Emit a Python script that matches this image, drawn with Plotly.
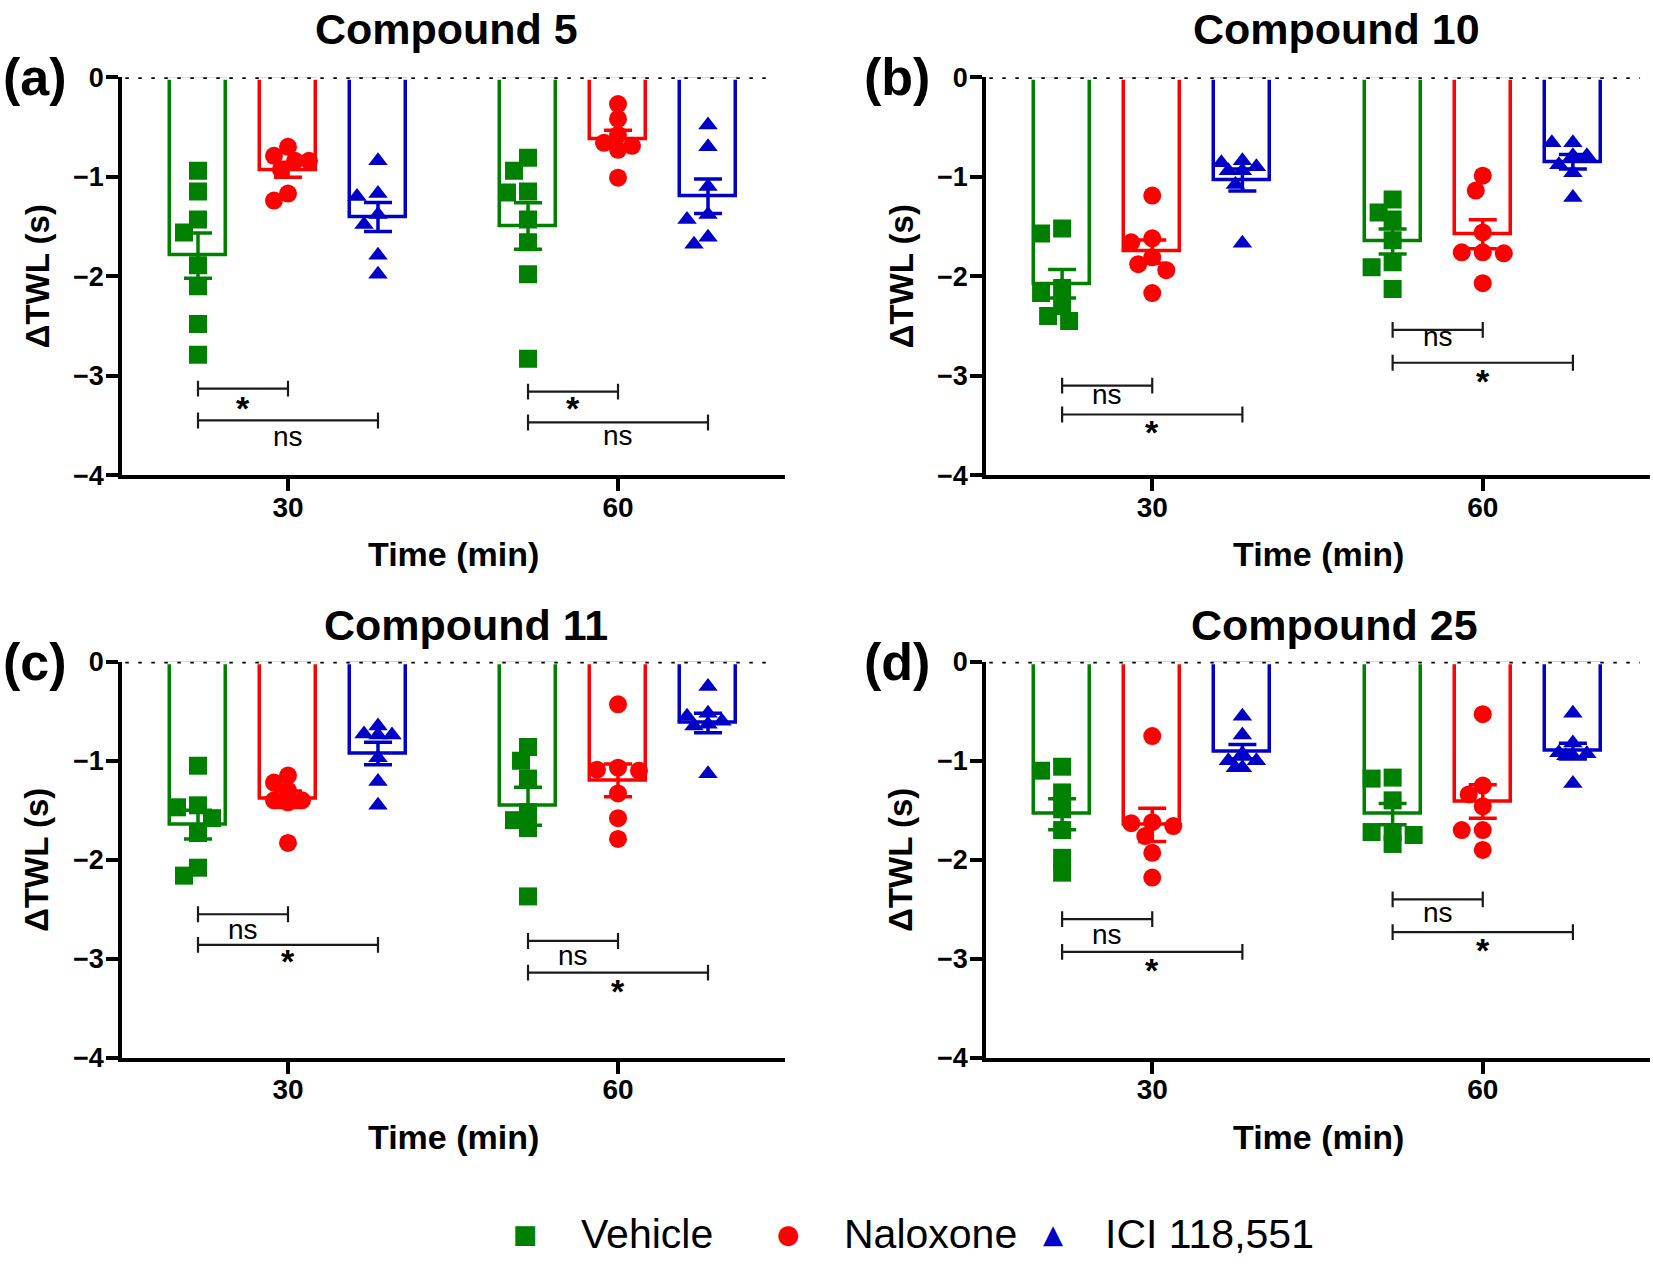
import plotly.graph_objects as go

W, H = 1653, 1264

TIME_LABELS = ["30", "60"]
GROUP_NAMES = ["Vehicle", "Naloxone", "ICI 118,551"]
PANEL_TAGS = ["(a)", "(b)", "(c)", "(d)"]
PANEL_TITLES = ["Compound 5", "Compound 10", "Compound 11", "Compound 25"]
Y_TICKS = [0, -1, -2, -3, -4]

# ---- individual animal values, ΔTWL (s) ----
C5_VEH_30 = [-0.94, -1.15, -1.43, -1.56, -1.89, -2.10, -2.48, -2.79]
C5_NAL_30 = [-0.70, -0.79, -0.84, -0.84, -0.93, -1.17, -1.24]
C5_ICI_30 = [-0.84, -1.17, -1.20, -1.38, -1.48, -1.79, -1.98]
C5_VEH_60 = [-0.81, -0.94, -1.15, -1.16, -1.43, -1.66, -1.98, -2.83]
C5_NAL_60 = [-0.27, -0.42, -0.58, -0.66, -0.69, -0.73, -1.01]
C5_ICI_60 = [-0.48, -0.70, -1.10, -1.38, -1.43, -1.61, -1.68]

C10_VEH_30 = [-1.52, -1.57, -2.12, -2.17, -2.30, -2.40, -2.45]
C10_NAL_30 = [-1.19, -1.62, -1.66, -1.81, -1.88, -1.94, -2.17]
C10_ICI_30 = [-0.84, -0.86, -0.90, -0.94, -0.94, -1.08, -1.67]
C10_VEH_60 = [-1.23, -1.36, -1.43, -1.64, -1.86, -1.91, -2.13]
C10_NAL_60 = [-0.99, -1.14, -1.56, -1.76, -1.76, -1.77, -2.07]
C10_ICI_60 = [-0.66, -0.66, -0.79, -0.79, -0.88, -0.96, -1.21]

C11_VEH_30 = [-1.05, -1.45, -1.47, -1.58, -1.73, -2.08, -2.16]
C11_NAL_30 = [-1.15, -1.22, -1.30, -1.40, -1.40, -1.42, -1.83]
C11_ICI_30 = [-0.65, -0.73, -0.74, -0.74, -0.97, -1.21, -1.45]
C11_VEH_60 = [-0.86, -1.00, -1.18, -1.52, -1.60, -1.68, -2.37]
C11_NAL_60 = [-0.43, -1.07, -1.09, -1.10, -1.33, -1.58, -1.79]
C11_ICI_60 = [-0.25, -0.52, -0.55, -0.60, -0.63, -0.65, -1.13]

C25_VEH_30 = [-1.06, -1.10, -1.32, -1.49, -1.70, -1.98, -2.13]
C25_NAL_30 = [-0.75, -1.62, -1.63, -1.66, -1.76, -1.93, -2.18]
C25_ICI_30 = [-0.55, -0.74, -0.93, -1.00, -1.00, -1.07, -1.07]
C25_VEH_60 = [-1.17, -1.18, -1.40, -1.72, -1.72, -1.75, -1.84]
C25_NAL_60 = [-0.53, -1.25, -1.34, -1.46, -1.70, -1.70, -1.90]
C25_ICI_60 = [-0.52, -0.82, -0.92, -0.93, -0.95, -0.95, -1.23]

PANEL_DATA = [
    [[C5_VEH_30, C5_NAL_30, C5_ICI_30], [C5_VEH_60, C5_NAL_60, C5_ICI_60]],
    [[C10_VEH_30, C10_NAL_30, C10_ICI_30], [C10_VEH_60, C10_NAL_60, C10_ICI_60]],
    [[C11_VEH_30, C11_NAL_30, C11_ICI_30], [C11_VEH_60, C11_NAL_60, C11_ICI_60]],
    [[C25_VEH_30, C25_NAL_30, C25_ICI_30], [C25_VEH_60, C25_NAL_60, C25_ICI_60]],
]

# significance brackets: level of (Vehicle-Naloxone, Vehicle-ICI) bracket, per panel & time
SIG_LEVELS = [
    [[-3.13, -3.45], [-3.16, -3.47]],
    [[-3.10, -3.39], [-2.54, -2.87]],
    [[-2.55, -2.86], [-2.82, -3.14]],
    [[-2.60, -2.93], [-2.40, -2.73]],
]
SIG_LABELS = [
    [["*", "ns"], ["*", "ns"]],
    [["ns", "*"], ["ns", "*"]],
    [["ns", "*"], ["ns", "*"]],
    [["ns", "*"], ["ns", "*"]],
]
SIG_LABEL_Y = [
    [[-3.28, -3.64], [-3.28, -3.63]],
    [[-3.22, -3.53], [-2.64, -3.01]],
    [[-2.73, -2.98], [-3.00, -3.28]],
    [[-2.78, -3.07], [-2.56, -2.87]],
]

# ---- styles / layout ----
COLORS = ["#008000", "#ff0000", "#0000c8"]
SYMBOLS = ["square", "circle", "triangle-up"]
LEG_GLYPHS = ["\u25A0", "\u25CF", "\u25B2"]
FONT = "Liberation Sans, Arial, sans-serif"

# plot areas (target picture pixels): left, right, top, bottom
BOXES = [(122, 785, 76, 475), (986, 1650, 76, 475),
         (122, 785, 662, 1059), (986, 1650, 662, 1059)]
X_RANGE = [0.497, 2.506]
GROUP_OFFSET = 0.2727
BAR_WIDTH = 0.17
PX_PER_X = 330.0
PX_PER_Y = 100.0
SWARM_STEP = 7.0
SWARM_MAX = 3
MIN_DIST = 15.0

# the photographed page is letter-boxed vertically; map target picture y -> page y
PAGE_TOP, PAGE_SCALE = 13.7, 0.9786


def page_y(img_y):
    return (img_y - PAGE_TOP) / PAGE_SCALE


def mean(v):
    return sum(v) / len(v)


def sem(v):
    m = mean(v)
    sd = (sum((x - m) ** 2 for x in v) / (len(v) - 1)) ** 0.5
    return sd / len(v) ** 0.5


def swarm_offsets(vals):
    """Spread overlapping points sideways (within the bar), GraphPad-like."""
    order = sorted(range(len(vals)), key=lambda i: -vals[i])
    placed, offs = [], [0.0] * len(vals)
    cands = [0]
    for k in range(1, SWARM_MAX + 1):
        cands += [-k, k]
    for i in order:
        y = vals[i] * PX_PER_Y
        best_x, best_d = 0.0, -1.0
        for k in cands:
            x = k * SWARM_STEP
            d = min([((x - px) ** 2 + (y - py) ** 2) ** 0.5 for px, py in placed] or [1e9])
            if d >= MIN_DIST:
                best_x = x
                break
            if d > best_d + 3:
                best_x, best_d = x, d
        placed.append((best_x, y))
        offs[i] = best_x / PX_PER_X
    return offs


def px2paper_x(px):
    return px / W


def py2paper(img_y):
    return 1 - page_y(img_y) / H


fig = go.Figure()
shapes, annotations = [], []

for p in range(4):
    n = "" if p == 0 else str(p + 1)
    xa, ya = "x" + n, "y" + n
    L, R, T, B = BOXES[p]
    tpos = [1, 2]
    for g in range(3):
        xs_bar = [t + (g - 1) * GROUP_OFFSET for t in tpos]
        means = [mean(PANEL_DATA[p][t][g]) for t in range(2)]
        sems = [sem(PANEL_DATA[p][t][g]) for t in range(2)]
        fig.add_trace(go.Bar(
            x=xs_bar, y=means, width=BAR_WIDTH, xaxis=xa, yaxis=ya,
            marker=dict(color="rgba(0,0,0,0)", line=dict(color=COLORS[g], width=3.5)),
            error_y=dict(type="data", array=sems, visible=True, color=COLORS[g],
                         thickness=3.5, width=14),
            showlegend=False, hoverinfo="skip"))
    for g in range(3):
        px_, py_ = [], []
        for t in range(2):
            vals = PANEL_DATA[p][t][g]
            offs = swarm_offsets(vals)
            for v, o in zip(vals, offs):
                px_.append(tpos[t] + (g - 1) * GROUP_OFFSET + o)
                py_.append(v)
        fig.add_trace(go.Scatter(
            x=px_, y=py_, mode="markers", xaxis=xa, yaxis=ya, name=GROUP_NAMES[g],
            marker=dict(symbol=SYMBOLS[g], color=COLORS[g], size=18 if g < 2 else 17,
                        line=dict(width=0)),
            showlegend=False, hoverinfo="skip"))

    fig.layout["xaxis" + n] = dict(
        domain=[px2paper_x(L), px2paper_x(R)], range=X_RANGE, anchor=ya,
        tickvals=tpos, ticktext=TIME_LABELS, showline=True, linecolor="black",
        linewidth=3.5, ticks="outside", ticklen=12, tickwidth=3.5, tickcolor="black",
        ticklabelstandoff=-8, showgrid=False, zeroline=False,
        tickfont=dict(family=FONT, size=28, color="black", weight="bold"))
    fig.layout["yaxis" + n] = dict(
        domain=[py2paper(B), py2paper(T)], range=[-4, 0], anchor=xa,
        tickvals=Y_TICKS, showline=True, linecolor="black", linewidth=3.5,
        ticks="outside", ticklen=12, tickwidth=3.5, tickcolor="black",
        ticklabelstandoff=-3, showgrid=False, zeroline=False,
        tickfont=dict(family=FONT, size=27, color="black", weight="bold"))

    # hide bar tops, then dotted zero line
    shapes.append(dict(type="line", xref=xa + " domain", yref=ya, x0=0.008, x1=1,
                       y0=0, y1=0, line=dict(color="white", width=5), layer="above"))
    shapes.append(dict(type="line", xref=xa + " domain", yref=ya, x0=0.005, x1=0.985,
                       y0=0, y1=0, line=dict(color="black", width=3.5, dash="3.5px,9.5px"),
                       layer="above"))

    # significance brackets
    tick_h = 8 / PX_PER_Y
    for t in range(2):
        x0 = tpos[t] - GROUP_OFFSET
        for k, gr in enumerate([1, 2]):
            x1 = tpos[t] + (gr - 1) * GROUP_OFFSET
            lev = SIG_LEVELS[p][t][k]
            path = (f"M{x0},{lev + tick_h} L{x0},{lev - tick_h} M{x0},{lev} L{x1},{lev} "
                    f"M{x1},{lev + tick_h} L{x1},{lev - tick_h}")
            shapes.append(dict(type="path", xref=xa, yref=ya, path=path,
                               line=dict(color="#1a1a1a", width=2.2), layer="above"))
            lab = SIG_LABELS[p][t][k]
            star = lab == "*"
            annotations.append(dict(
                xref=xa, yref=ya, x=(x0 + x1) / 2, y=SIG_LABEL_Y[p][t][k], text=lab,
                showarrow=False, xanchor="center", yanchor="middle",
                yshift=-4 if star else 3,
                font=dict(family=FONT, size=34 if star else 28, color="black",
                          weight="bold" if star else "normal")))

    # titles, panel tags, axis titles
    cx = (L + R) / 2
    title_x = [446, 1336, 466, 1334][p]
    title_y = [28, 28, 625, 625][p]
    annotations.append(dict(xref="paper", yref="paper", x=px2paper_x(title_x),
                            y=py2paper(title_y), text=PANEL_TITLES[p], showarrow=False,
                            xanchor="center", yanchor="middle",
                            font=dict(family=FONT, size=43, color="black", weight="bold")))
    tag_x = 35 if p in (0, 2) else 897
    annotations.append(dict(xref="paper", yref="paper", x=px2paper_x(tag_x),
                            y=py2paper(T), text=PANEL_TAGS[p], showarrow=False,
                            xanchor="center", yanchor="middle",
                            font=dict(family=FONT, size=52, color="black", weight="bold")))
    annotations.append(dict(xref="paper", yref="paper", x=px2paper_x(cx),
                            y=py2paper(B + 79), text="Time (min)", showarrow=False,
                            xanchor="center", yanchor="middle",
                            font=dict(family=FONT, size=34, color="black", weight="bold")))
    annotations.append(dict(xref="paper", yref="paper", x=px2paper_x(L - 85),
                            y=py2paper((T + B) / 2), text="ΔTWL (s)", showarrow=False,
                            textangle=-90, xanchor="center", yanchor="middle",
                            font=dict(family=FONT, size=33, color="black", weight="bold")))

# legend (bottom, drawn manually)
LEG_SYM_X = [525, 788, 1053]
LEG_TXT_X = [579, 842, 1103]
LEG_Y = 1236
for g in range(3):
    annotations.append(dict(xref="paper", yref="paper", x=px2paper_x(LEG_SYM_X[g]),
                            y=py2paper(LEG_Y), text=LEG_GLYPHS[g], showarrow=False,
                            xanchor="center", yanchor="middle",
                            font=dict(family="DejaVu Sans", size=26, color=COLORS[g])))
    annotations.append(dict(xref="paper", yref="paper", x=px2paper_x(LEG_TXT_X[g]),
                            y=py2paper(LEG_Y), text=GROUP_NAMES[g], showarrow=False,
                            xanchor="left", yanchor="middle",
                            font=dict(family=FONT, size=41, color="black")))

fig.update_layout(
    width=W, height=H, margin=dict(l=0, r=0, t=0, b=0),
    paper_bgcolor="white", plot_bgcolor="white", showlegend=False,
    shapes=shapes, annotations=annotations, bargap=0,
    font=dict(family=FONT, color="black"))

fig.write_html(
    "out.html",
    config={"displayModeBar": False},
    post_script=("document.documentElement.style.margin='0px';"
                 "document.body.style.margin='0px';"
                 "document.documentElement.style.overflow='hidden';"
                 "document.body.style.overflow='hidden';"))
